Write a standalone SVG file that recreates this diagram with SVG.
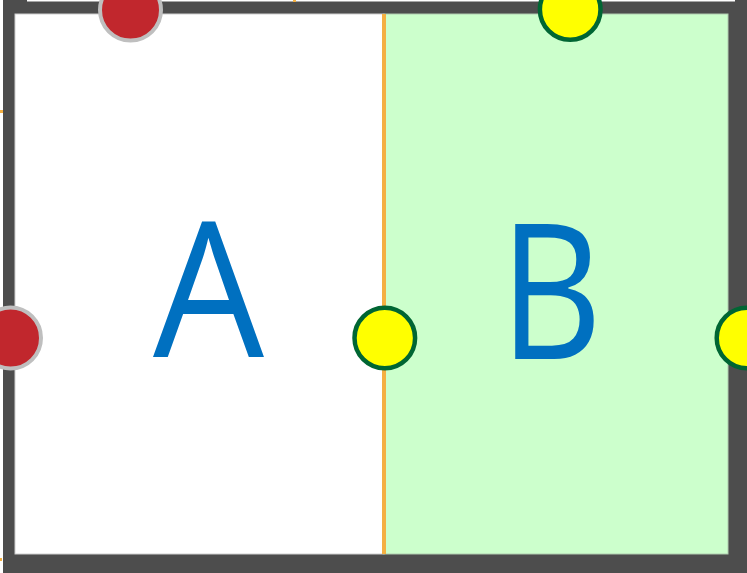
<svg xmlns="http://www.w3.org/2000/svg" width="747" height="573" viewBox="0 0 747 573">
<style>
.wall{fill:#4d4d4d}
.mark{fill:#f4b042}
.lbl{font-family:"Open Sans","Noto Sans","Liberation Sans",sans-serif;font-size:189px;fill:#0070c0;text-anchor:middle}
.red{fill:#c1272d;stroke:#bfbfbf;stroke-width:4}
.yel{fill:#ffff00;stroke:#006633;stroke-width:4.5}
</style>
<rect width="747" height="573" fill="#ffffff"/>
<g id="walls">
<rect class="wall" x="3" y="1.5" width="744" height="571.5"/>
<rect class="wall" x="3" y="0" width="24" height="2"/>
<rect class="wall" x="735" y="0" width="12" height="2"/>
<rect class="mark" x="293" y="0" width="3" height="2"/>
<rect class="mark" x="0" y="110" width="3" height="3"/>
<rect class="mark" x="0" y="558" width="2" height="3"/>
</g>
<g id="roomA">
<rect x="15" y="14" width="369" height="540" fill="#ffffff" stroke="#d0d0d0" stroke-width="1"/>
<text class="lbl" transform="translate(208.5 357) scale(0.93 1)">A</text>
</g>
<g id="roomB">
<rect x="384" y="14" width="344" height="540" fill="#ccffcc" stroke="#b0ccb0" stroke-width="1"/>
<text class="lbl" transform="translate(551 359) scale(0.84 1)">B</text>
</g>
<g id="connectors">
<line x1="384" y1="14" x2="384" y2="554" stroke="#f4b042" stroke-width="4"/>
</g>
<g id="doorA-top"><circle class="red" cx="130.5" cy="10" r="30.5"/></g>
<g id="doorA-left"><circle class="red" cx="10.5" cy="338" r="30.5"/></g>
<g id="doorB-top"><circle class="yel" cx="570.2" cy="9.5" r="30.3"/></g>
<g id="doorAB"><circle class="yel" cx="384.8" cy="338" r="30.3"/></g>
<g id="doorB-right"><circle class="yel" cx="747" cy="338" r="30.3"/></g>
</svg>
